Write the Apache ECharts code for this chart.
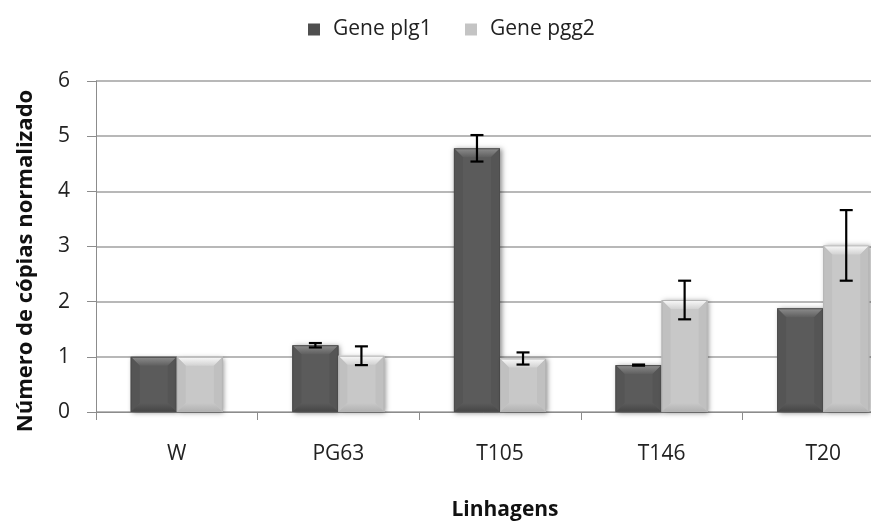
<!DOCTYPE html>
<html>
<head>
<meta charset="utf-8">
<script src="https://cdn.jsdelivr.net/npm/echarts@6/dist/echarts.min.js"></script>
<style>
  html, body { margin: 0; padding: 0; background: #fff; }
  #chart { width: 871px; height: 521px; }
</style>
</head>
<body>
<div id="chart"></div>
<script>
// Normalized copy number per strain, with standard-deviation error bars
const categories = ['W', 'PG63', 'T105', 'T146', 'T20'];
const plg1 = [1.0, 1.21, 4.78, 0.85, 1.88];
const pgg2 = [1.0, 1.02, 0.97, 2.03, 3.02];
const plg1Err = [0, 0.04, 0.24, 0.01, 0];
const pgg2Err = [0, 0.17, 0.11, 0.35, 0.64];
const yTicks = [0, 1, 2, 3, 4, 5, 6];

const FONT = 'Open Sans';
const BAR_FRACTION = 0.285;   // width of one bar relative to the category band

const palettes = {
  dark:  { face: '#5b5b5b', top: ['#8e8e8e', '#5f5f5f'], side: '#555555', bottom: '#454545', edge: '#4d4d4d' },
  light: { face: '#c8c8c8', top: ['#fafafa', '#d2d2d2'], side: '#c0c0c0', bottom: '#b0b0b0', edge: '#b4b4b4' }
};

function bevelBar(pal, offsetSign) {
  return function (params, api) {
    const ci = api.value(0);
    const v = api.value(1);
    const band = api.size([1, 0])[0];
    const bw = band * BAR_FRACTION;
    const c = api.coord([ci, v]);
    const base = api.coord([ci, 0]);
    const x0 = c[0] + (offsetSign < 0 ? -bw : 0);
    const x1 = x0 + bw;
    const y0 = c[1];
    const y1 = base[1];
    const h = y1 - y0;
    const b = Math.min(9, h / 2);
    return {
      type: 'group',
      children: [
        { type: 'rect', shape: { x: x0, y: y0, width: bw, height: h },
          style: { fill: pal.face, shadowBlur: 5, shadowColor: 'rgba(0,0,0,0.45)', shadowOffsetX: 1.5, shadowOffsetY: 1 } },
        // top bevel
        { type: 'polygon', shape: { points: [[x0, y0], [x1, y0], [x1 - b, y0 + b], [x0 + b, y0 + b]] },
          style: { fill: new echarts.graphic.LinearGradient(0, 0, 0, 1, [
            { offset: 0, color: pal.top[0] }, { offset: 1, color: pal.top[1] }]) } },
        // left and right bevels
        { type: 'polygon', shape: { points: [[x0, y0], [x0 + b, y0 + b], [x0 + b, y1 - b], [x0, y1]] },
          style: { fill: pal.side } },
        { type: 'polygon', shape: { points: [[x1, y0], [x1, y1], [x1 - b, y1 - b], [x1 - b, y0 + b]] },
          style: { fill: pal.side } },
        // bottom bevel
        { type: 'polygon', shape: { points: [[x0, y1], [x0 + b, y1 - b], [x1 - b, y1 - b], [x1, y1]] },
          style: { fill: new echarts.graphic.LinearGradient(0, 0, 0, 1, [
            { offset: 0, color: pal.face }, { offset: 1, color: pal.bottom }]) } },
        { type: 'rect', shape: { x: x0 + 0.5, y: y0 + 0.5, width: bw - 1, height: h - 1 },
          style: { fill: 'none', stroke: pal.edge, lineWidth: 1 } }
      ]
    };
  };
}

function errorBars(offsetSign) {
  return function (params, api) {
    const ci = api.value(0);
    const v = api.value(1);
    const e = api.value(2);
    if (!e) return null;
    const band = api.size([1, 0])[0];
    const bw = band * BAR_FRACTION;
    const cx = api.coord([ci, v])[0] + offsetSign * bw / 2;
    const hi = api.coord([ci, v + e])[1];
    const lo = api.coord([ci, v - e])[1];
    const cap = 6.5;
    const st = { stroke: '#000', lineWidth: 2.2 };
    return {
      type: 'group',
      children: [
        { type: 'line', shape: { x1: cx, y1: hi, x2: cx, y2: lo }, style: st },
        { type: 'line', shape: { x1: cx - cap, y1: hi, x2: cx + cap, y2: hi }, style: st },
        { type: 'line', shape: { x1: cx - cap, y1: lo, x2: cx + cap, y2: lo }, style: st }
      ]
    };
  };
}

const rows = (vals, errs) => vals.map((v, i) => [i, v, errs[i]]);

const legendText = { fontFamily: FONT, fontSize: 21, color: '#222', padding: [0, 0, 0, 8] };

const chart = echarts.init(document.getElementById('chart'), null, { renderer: 'canvas' });
chart.setOption({
  animation: false,
  backgroundColor: '#fff',
  textStyle: { fontFamily: FONT },
  legend: [
    { left: 308, top: 14, padding: [5, 0, 5, 0], itemWidth: 12, itemHeight: 12, icon: 'rect',
      textStyle: legendText, data: ['Gene plg1'] },
    { left: 465, top: 14, padding: [5, 0, 5, 0], itemWidth: 12, itemHeight: 12, icon: 'rect',
      textStyle: legendText, data: ['Gene pgg2'] }
  ],
  title: {
    text: 'Linhagens', left: 500, top: 495, textAlign: 'center',
    textStyle: { fontFamily: FONT, fontSize: 21, fontWeight: 'bold', color: '#111' }
  },
  graphic: [{
    type: 'text', x: 26, y: 261, rotation: Math.PI / 2,
    style: { text: 'Número de cópias normalizado', fontFamily: FONT, fontSize: 22, fontWeight: 'bold',
             fill: '#111', align: 'center', verticalAlign: 'middle' }
  }],
  grid: { left: 96, top: 81, width: 808, height: 331, outerBoundsMode: 'none' },
  xAxis: {
    type: 'category', data: categories,
    axisLine: { lineStyle: { color: '#8c8c8c', width: 1 } },
    axisTick: { show: true, length: 8, lineStyle: { color: '#8c8c8c' } },
    axisLabel: { fontFamily: FONT, fontSize: 21, color: '#222', margin: 32 },
    splitLine: { show: false }
  },
  yAxis: {
    type: 'value', min: 0, max: 6, interval: 1,
    axisLine: { show: true, lineStyle: { color: '#8c8c8c', width: 1 } },
    axisTick: { show: true, length: 9, lineStyle: { color: '#8c8c8c' } },
    axisLabel: { fontFamily: FONT, fontSize: 21, color: '#222', margin: 26,
                 formatter: v => yTicks.includes(v) ? String(v) : '' },
    splitLine: { lineStyle: { color: '#a0a0a0', width: 1.5 } }
  },
  series: [
    { name: 'Gene plg1', type: 'custom', renderItem: bevelBar(palettes.dark, -1),
      itemStyle: { color: '#4f4f4f' }, data: rows(plg1, plg1Err), encode: { x: 0, y: 1 }, z: 2 },
    { name: 'Gene pgg2', type: 'custom', renderItem: bevelBar(palettes.light, 1),
      itemStyle: { color: '#c4c4c4' }, data: rows(pgg2, pgg2Err), encode: { x: 0, y: 1 }, z: 2 },
    { name: 'plg1 error', type: 'custom', renderItem: errorBars(-1),
      data: rows(plg1, plg1Err), encode: { x: 0, y: 1 }, z: 5 },
    { name: 'pgg2 error', type: 'custom', renderItem: errorBars(1),
      data: rows(pgg2, pgg2Err), encode: { x: 0, y: 1 }, z: 5 }
  ]
});
</script>
</body>
</html>
